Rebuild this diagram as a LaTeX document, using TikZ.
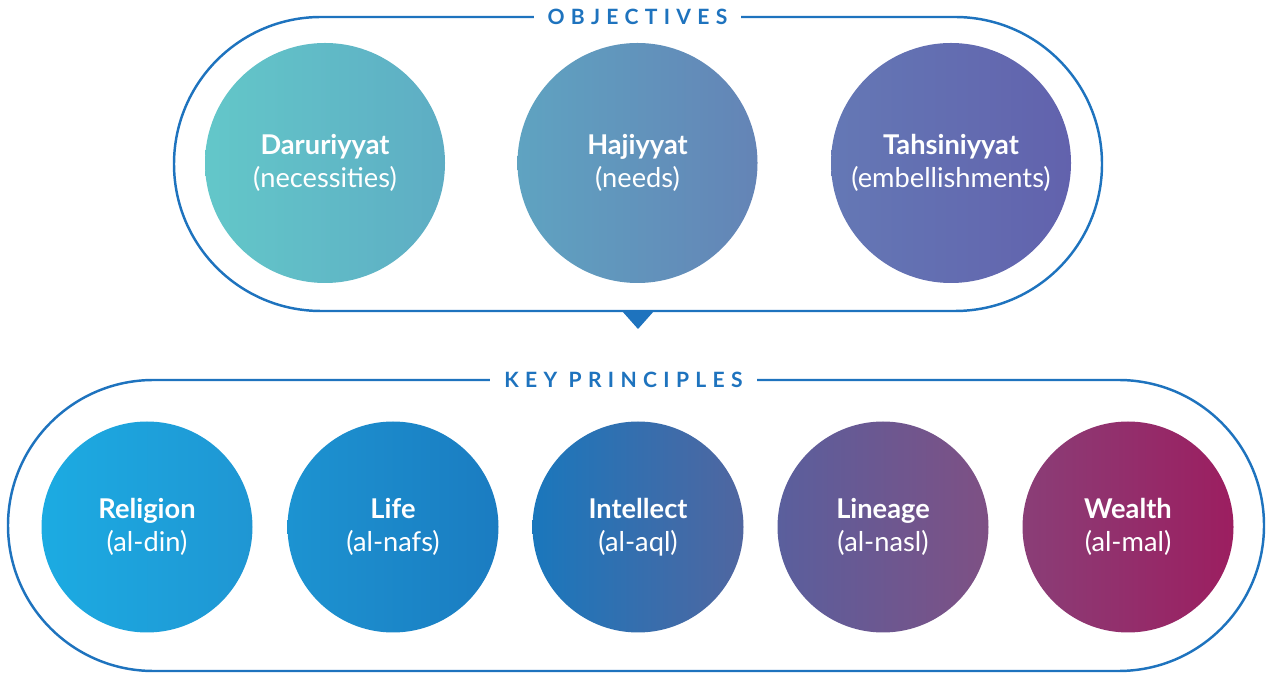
\documentclass[tikz,border=0pt]{standalone}
\usepackage{fontspec}
\setmainfont{Lato}
\usepackage{tikz}
\usetikzlibrary{positioning,calc}
\definecolor{frameblue}{HTML}{1E73BE}
\definecolor{darL}{HTML}{63C7C9}
\definecolor{darR}{HTML}{5EADC4}
\definecolor{hajL}{HTML}{5FA3C1}
\definecolor{hajR}{HTML}{6484B6}
\definecolor{tahL}{HTML}{6478B5}
\definecolor{tahR}{HTML}{6262AD}
\definecolor{dinL}{HTML}{1CABE2}
\definecolor{dinR}{HTML}{1F96D3}
\definecolor{nafsL}{HTML}{1C93D1}
\definecolor{nafsR}{HTML}{1B7CC1}
\definecolor{aqlL}{HTML}{1A77BC}
\definecolor{aqlR}{HTML}{5066A0}
\definecolor{naslL}{HTML}{5A5F9D}
\definecolor{naslR}{HTML}{7E5084}
\definecolor{malL}{HTML}{8A3E77}
\definecolor{malR}{HTML}{9C1E60}

\begin{document}
\begin{tikzpicture}[
    frame/.style={draw=frameblue, line width=1.4pt},
    heading/.style={fill=white, inner xsep=8pt, text=frameblue,
                    font=\fontsize{12}{14}\selectfont\bfseries\addfontfeature{LetterSpace=30}},
    goal/.style={circle, minimum size=4.8cm, inner sep=0pt, text=white, align=center,
                 font=\fontsize{15.5}{18.8}\selectfont},
    principle/.style={goal, minimum size=4.22cm},
]
\useasboundingbox (0,0) rectangle (25.4,13.48);

% objectives
\draw[frame, rounded corners=2.94cm] (3.48,7.26) rectangle (22.04,13.14);
\node[heading] (obj) at (12.75,13.14) {OBJECTIVES};
\node[goal, left color=darL, right color=darR] (dar) at (6.5,10.22)
    {\textbf{Daruriyyat}\\(necessities)};
\node[goal, left color=hajL, right color=hajR] (haj) at (12.75,10.22)
    {\textbf{Hajiyyat}\\(needs)};
\node[goal, left color=tahL, right color=tahR] (tah) at (19.02,10.22)
    {\textbf{Tahsiniyyat}\\(embellishments)};
\coordinate (tip) at (12.76,6.9);
\fill[frameblue] (tip) -- ++(-0.32,0.36) -- ++(0.64,0) -- cycle;

% key principles
\draw[frame, rounded corners=2.91cm] (0.16,0.06) rectangle (25.28,5.88);
\node[heading] (key) at (12.47,5.88) {KEY PRINCIPLES};
\node[principle, left color=dinL, right color=dinR] (din) at (2.94,2.94)
    {\textbf{Religion}\\(al-din)};
\node[principle, left color=nafsL, right color=nafsR] (nafs) at (7.86,2.94)
    {\textbf{Life}\\(al-nafs)};
\node[principle, left color=aqlL, right color=aqlR] (aql) at (12.76,2.94)
    {\textbf{Intellect}\\(al-aql)};
\node[principle, left color=naslL, right color=naslR] (nasl) at (17.66,2.94)
    {\textbf{Lineage}\\(al-nasl)};
\node[principle, left color=malL, right color=malR] (mal) at (22.56,2.94)
    {\textbf{Wealth}\\(al-mal)};
\end{tikzpicture}
\end{document}
